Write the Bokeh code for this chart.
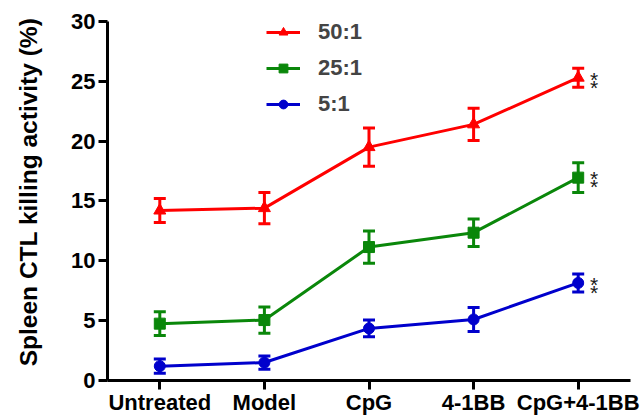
from bokeh.plotting import figure
from bokeh.models import ColumnDataSource, Whisker, TeeHead, FixedTicker, Legend, LegendItem
from bokeh.core.properties import value
from bokeh.embed import file_html
from bokeh.resources import INLINE

categories = ["Untreated", "Model", "CpG", "4-1BB", "CpG+4-1BB"]
series_names = ["50:1", "25:1", "5:1"]
mean_50 = [14.2, 14.4, 19.5, 21.4, 25.3]
err_50 = [1.0, 1.3, 1.6, 1.35, 0.8]
mean_25 = [4.75, 5.05, 11.15, 12.35, 16.95]
err_25 = [1.0, 1.1, 1.35, 1.15, 1.25]
mean_5 = [1.2, 1.5, 4.35, 5.1, 8.15]
err_5 = [0.6, 0.55, 0.7, 1.0, 0.75]
significance = "*"
y_ticks = [0, 5, 10, 15, 20, 25, 30]

colors = ["#ff0000", "#0a870a", "#0000cc"]
markers = ["triangle", "square", "circle"]
FONT = "Liberation Sans"

p = figure(width=640, height=417, x_range=(-0.5, 4.5), y_range=(0, 31.5),
           output_backend="svg", toolbar_location=None,
           min_border_left=107, min_border_right=10, min_border_top=3, min_border_bottom=36)
p.outline_line_color = None
p.grid.visible = False
p.background_fill_color = "white"
p.border_fill_color = "white"

xs = list(range(len(categories)))
items = []
for name, means, errs, col, mk in zip(series_names, [mean_50, mean_25, mean_5],
                                      [err_50, err_25, err_5], colors, markers):
    src = ColumnDataSource(dict(x=xs, y=means,
                                upper=[m + e for m, e in zip(means, errs)],
                                lower=[m - e for m, e in zip(means, errs)]))
    ln = p.line("x", "y", source=src, line_color=col, line_width=3)
    w = Whisker(source=src, base="x", upper="upper", lower="lower", dimension="height",
                line_color=col, line_width=3,
                upper_head=TeeHead(size=12, line_color=col, line_width=3),
                lower_head=TeeHead(size=12, line_color=col, line_width=3))
    p.add_layout(w)
    sc = p.scatter("x", "y", source=src, marker=mk, size=11 if mk != "triangle" else 12,
                   fill_color=col, line_color=col)
    items.append(LegendItem(label=name, renderers=[ln, sc]))
    for dy in (1.3, 9.3):
        p.text(x=[xs[-1]], y=[means[-1]], text=[significance], x_offset=16, y_offset=dy,
               text_font=value(FONT), text_font_size="21px", text_color="#1a1a1a",
               text_align="center", text_baseline="middle")

legend = Legend(items=items, location=(159, 263), orientation="vertical",
                glyph_width=34, glyph_height=22, label_standoff=18, spacing=10,
                padding=0, margin=0, border_line_color=None, background_fill_alpha=0,
                label_text_font=FONT, label_text_font_size="22px", label_text_font_style="bold",
                label_height=22)
p.add_layout(legend, "center")

for ax in [p.xaxis[0], p.yaxis[0]]:
    ax.axis_line_width = 3
    ax.axis_line_color = "black"
    ax.major_tick_line_width = 3
    ax.major_tick_line_color = "black"
    ax.major_tick_out = 9
    ax.major_tick_in = 0
    ax.minor_tick_line_color = None
    ax.major_label_text_font = FONT
    ax.major_label_text_font_size = "22px"
    ax.major_label_text_font_style = "bold"
    ax.major_label_text_color = "black"

p.xaxis.ticker = FixedTicker(ticks=xs)
p.xaxis.major_label_overrides = {i: c for i, c in enumerate(categories)}
p.xaxis.major_label_standoff = 0
p.yaxis.ticker = FixedTicker(ticks=y_ticks)
p.yaxis.bounds = (y_ticks[0], y_ticks[-1])
p.yaxis.major_label_standoff = 3
p.yaxis.axis_label = "Spleen CTL killing activity (%)"
p.yaxis.axis_label_text_font = FONT
p.yaxis.axis_label_text_font_size = "24.5px"
p.yaxis.axis_label_text_font_style = "bold"
p.yaxis.axis_label_text_color = "black"
p.yaxis.axis_label_standoff = 26

open("out.html", "w").write(file_html(p, INLINE))
